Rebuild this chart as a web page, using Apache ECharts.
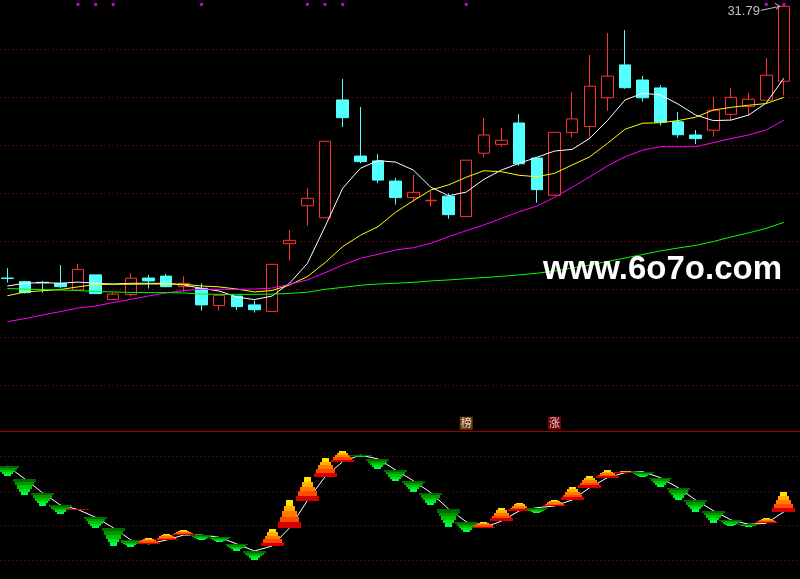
<!DOCTYPE html>
<html><head><meta charset="utf-8">
<script src="https://cdn.jsdelivr.net/npm/echarts@6/dist/echarts.min.js"></script>
<style>html,body{margin:0;padding:0;background:#000;}#c{width:800px;height:579px;}</style>
</head><body><div id="c"></div>
<script>
const days = ['1','2','3','4','5','6','7','8','9','10','11','12','13','14','15','16','17','18','19','20','21','22','23','24','25','26','27','28','29','30','31','32','33','34','35','36','37','38','39','40','41','42','43','44','45'];
const openP  = [20.47,20.32,20.29,20.25,19.97,20.60,19.57,19.78,20.47,20.55,20.11,20.04,19.32,19.72,19.35,19.08,21.90,23.48,22.98,27.89,25.55,25.35,24.51,23.82,23.69,23.88,23.03,25.67,26.04,26.93,25.47,23.92,26.53,26.78,27.98,29.35,28.72,28.39,26.98,26.43,26.63,27.29,27.61,27.88,28.67];
const closeP = [20.45,19.86,20.27,20.11,20.83,19.82,19.80,20.46,20.35,20.11,20.25,19.35,19.75,19.28,19.15,21.04,22.04,23.79,26.17,27.15,25.32,24.55,23.82,24.04,23.71,23.11,25.38,26.43,26.21,25.23,24.15,26.54,27.10,28.46,28.88,28.40,27.98,26.97,26.44,26.28,27.46,28.00,27.92,28.92,31.79];
const lowP   = [20.28,19.83,19.86,20.04,19.97,19.82,19.57,19.69,20.03,20.08,19.90,19.11,19.11,19.14,19.03,19.08,21.19,22.65,22.98,26.76,25.25,24.42,23.53,23.65,23.44,22.94,23.03,25.50,25.94,25.15,23.61,23.92,26.32,26.32,27.44,28.35,27.82,26.82,26.32,26.05,26.36,27.05,27.22,27.88,28.07];
const highP  = [20.88,20.35,20.35,21.01,21.05,20.60,19.87,20.68,20.60,20.64,20.54,20.25,19.75,19.72,19.53,21.04,22.47,24.21,26.17,28.76,27.60,25.64,24.64,24.76,24.11,24.00,25.38,27.14,26.72,27.30,25.50,26.54,28.22,29.76,30.68,30.80,28.89,28.51,27.39,26.64,28.01,28.39,28.18,29.64,31.79];
const ma5  = [20.14,20.25,20.28,20.25,20.30,20.25,20.22,20.25,20.25,20.25,20.18,20.04,19.93,19.68,19.57,19.72,20.26,21.08,22.61,24.21,25.04,25.36,25.30,24.97,24.25,23.90,24.05,24.58,24.97,25.25,25.50,25.76,25.83,26.29,27.03,27.89,28.17,28.10,27.72,27.26,27.03,27.05,27.26,27.76,28.80];
const ma10 = [19.73,19.89,19.94,19.99,20.10,20.20,20.21,20.21,20.22,20.22,20.21,20.14,20.10,20.01,19.89,19.95,20.18,20.53,21.11,21.78,22.25,22.61,23.21,23.69,24.14,24.35,24.67,24.94,24.90,24.75,24.69,24.83,25.18,25.52,26.08,26.67,26.92,26.94,27.03,27.17,27.47,27.58,27.67,27.74,28.00];
const ma20 = [18.65,18.78,18.93,19.07,19.22,19.30,19.45,19.58,19.72,19.85,19.95,20.00,20.00,20.00,20.01,20.05,20.21,20.39,20.69,21.01,21.29,21.46,21.64,21.73,21.92,22.19,22.44,22.68,22.96,23.23,23.47,23.83,24.25,24.69,25.14,25.52,25.80,25.94,25.94,25.94,26.11,26.28,26.43,26.64,27.05];
const ma60 = [20.03,20.01,19.99,19.97,19.95,19.91,19.89,19.87,19.86,19.86,19.85,19.80,19.79,19.79,19.79,19.80,19.83,19.88,20.00,20.08,20.17,20.22,20.25,20.29,20.35,20.39,20.44,20.49,20.54,20.60,20.67,20.76,20.89,21.01,21.16,21.30,21.45,21.60,21.72,21.83,21.99,22.18,22.35,22.54,22.79];
const oscLine = [68.0,58.6,48.7,39.9,36.6,31.0,23.5,14.6,11.8,14.6,18.2,18.2,16.6,11.8,6.7,10.3,23.5,43.0,60.3,71.1,75.9,73.1,65.1,57.4,48.7,37.0,27.8,23.5,28.3,35.6,37.9,39.2,43.5,52.4,59.6,63.2,63.9,59.6,52.4,43.5,35.8,29.1,26.0,26.7,35.0];
const oscEnd  = [61.0,47.1,39.4,33.4,37.0,23.5,10.3,9.8,16.3,19.0,21.9,14.6,13.4,6.9,0.2,22.6,43.5,59.9,73.8,78.8,74.3,65.8,57.2,49.5,39.9,24.2,20.6,27.8,37.9,41.5,34.3,43.5,53.1,61.0,65.1,64.4,60.3,53.1,43.5,35.0,27.1,24.7,24.2,30.7,49.5];
const dotIdx = [4,5,6,11,17,18,19,26,43,44];
const signalIdx = [26,31];
const signalText = ['榜','涨'];

const upColors = ['#d40000','#ff4a00','#ff7c00','#ffb000','#ffe400'];
const dnColors = ['#006a00','#009800','#00c200','#00e224','#00ff44'];
const layerW = [23,19,15,11,7];

const chart = echarts.init(document.getElementById('c'), null, {renderer:'canvas'});
const candleData = openP.map((o,i)=>[o, closeP[i], lowP[i], highP[i]]);
const noSplit = {show:false};
const splitUp = {show:true, showMinLine:false, showMaxLine:false, lineStyle:{color:'#8c0000', type:[1,3], width:1}};
const splitLo = {show:true, showMinLine:true, showMaxLine:false, lineStyle:{color:'#8c0000', type:[1,3], width:1}};
const maLine = (name, data, color) => ({name, type:'line', xAxisIndex:0, yAxisIndex:0, data, symbol:'none', z:4, lineStyle:{color, width:1}, silent:true});
const hiddenY = (g, mn, mx, iv, split) => ({type:'value', gridIndex:g, min:mn, max:mx, interval:iv, axisLine:{show:false}, axisTick:{show:false}, axisLabel:{show:false}, splitLine:split});

const option = {
  backgroundColor:'#000',
  animation:false,
  grid:[
    {left:-1.5, width:794.25, top:1.3, height:432, outerBoundsMode:'none', containLabel:false},
    {left:-1.5, width:794.25, top:431, height:129.3, outerBoundsMode:'none', containLabel:false},
    {left:0, width:800, top:1.3, height:432, outerBoundsMode:'none', containLabel:false},
    {left:0, width:800, top:431, height:129.3, outerBoundsMode:'none', containLabel:false}
  ],
  xAxis:[
    {type:'category', data:days, gridIndex:0, boundaryGap:true, show:false},
    {type:'category', data:days, gridIndex:1, boundaryGap:true, show:false},
    {type:'value', gridIndex:2, min:0, max:1, show:false},
    {type:'value', gridIndex:3, min:0, max:1, position:'top',
     axisLine:{show:true, onZero:false, lineStyle:{color:'#a00000', width:1}}, axisTick:{show:false}, axisLabel:{show:false}, splitLine:{show:false}}
  ],
  yAxis:[
    hiddenY(0, 14, 32, 2, noSplit),
    hiddenY(1, 0, 93.24, 25, noSplit),
    hiddenY(2, 14, 32, 2, splitUp),
    hiddenY(3, 0, 93.24, 25, splitLo)
  ],
  series:[
    {type:'candlestick', xAxisIndex:0, yAxisIndex:0, data:candleData, barWidth:12, z:2,
     itemStyle:{color:'transparent', color0:'#54ffff', borderColor:'#ff3232', borderColor0:'#54ffff', borderWidth:1}},
    maLine('MA5', ma5, '#ffffff'),
    maLine('MA10', ma10, '#ffff00'),
    maLine('MA20', ma20, '#ff00ff'),
    maLine('MA60', ma60, '#00ff00'),
    {type:'scatter', xAxisIndex:0, yAxisIndex:0, symbol:'rect', symbolSize:3, z:5,
     itemStyle:{color:'#ff00ff'}, data:dotIdx.map(i=>[i,31.87])},
    {type:'scatter', xAxisIndex:0, yAxisIndex:0, symbol:'rect', symbolSize:13, z:5,
     data:signalIdx.map((idx,k)=>({value:[idx,14.42], itemStyle:{color: k===0?'#8b4a0a':'#900000'},
        label:{show:true, position:'inside', formatter:signalText[k], color:'#ffffff', fontSize:11, fontFamily:'"Noto Sans CJK SC"'}}))},
    {type:'line', xAxisIndex:1, yAxisIndex:1, data:oscLine, symbol:'none', z:2, clip:false, lineStyle:{color:'#ffffff', width:1}},
    {type:'custom', xAxisIndex:1, yAxisIndex:1, z:3, clip:false,
     data:oscLine.map((v,i)=>[i, v, oscEnd[i]]),
     encode:{x:0, y:[1,2]},
     renderItem:function(params, api){
       const i = api.value(0), a = api.value(1), b = api.value(2);
       const p0 = api.coord([i,a]), p1 = api.coord([i,b]);
       const up = b >= a;
       const dir = up ? -1 : 1;
       const cols = up ? upColors : dnColors;
       const H = Math.abs(p1[1]-p0[1]);
       const cx = p0[0];
       const children = [];
       let prev = Math.round(p0[1]);
       for (let k=0;k<5;k++){
         let next = Math.round(p0[1] + dir*H*(k+1)/5);
         if (k===0 && (next-prev)*dir < 1) next = prev + dir;
         if ((next-prev)*dir < 1) continue;
         const w = layerW[k];
         children.push({type:'rect', shape:{x:Math.round(cx - w/2), y:Math.min(prev,next), width:w, height:Math.abs(next-prev)}, style:{fill:cols[k]}});
         prev = next;
       }
       return {type:'group', children};
     }}
  ]
};
chart.setOption(option);

const hi = Math.max(...highP);
const hiIdx = highP.indexOf(hi);
const pt = chart.convertToPixel({seriesIndex:0}, [hiIdx, hi]);
chart.setOption({graphic:[
  {type:'text', left:543, top:253, z:10, style:{text:'www.6o7o.com', fill:'#ffffff', font:'bold 33px "Liberation Sans"'}},
  {type:'text', x:pt[0]-24, y:pt[1]+5, z:10, style:{text:hi.toFixed(2), fill:'#c0c0c0', font:'13px "Liberation Sans"', align:'right', verticalAlign:'middle'}},
  {type:'polyline', z:10, shape:{points:[[pt[0]-23,pt[1]+4],[pt[0]-4,pt[1]]]}, style:{stroke:'#c0c0c0', lineWidth:1, fill:null}},
  {type:'polyline', z:10, shape:{points:[[pt[0]-9,pt[1]-3],[pt[0]-4,pt[1]],[pt[0]-8,pt[1]+3]]}, style:{stroke:'#c0c0c0', lineWidth:1, fill:null}}
]});
</script></body></html>
